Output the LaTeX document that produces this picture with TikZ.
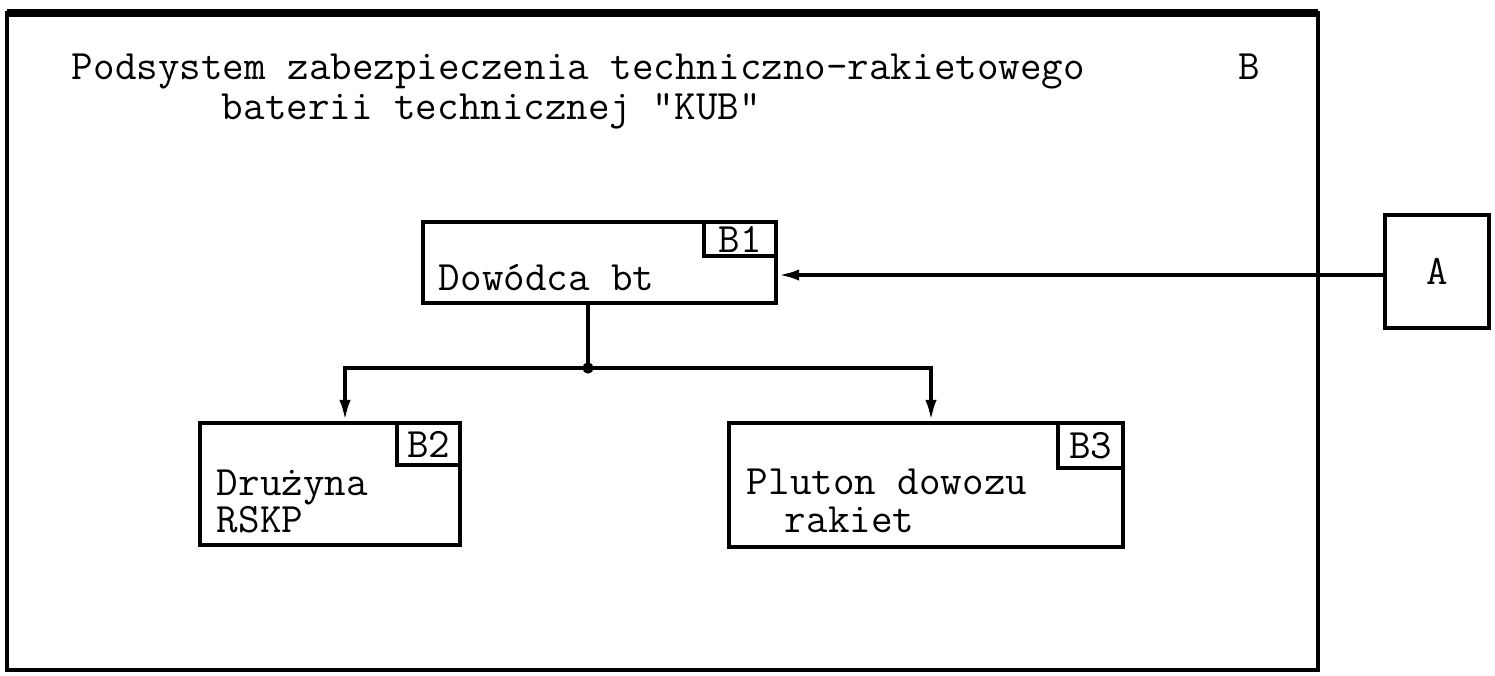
\documentclass[tikz,border=0pt]{standalone}
\usepackage{fontspec}
\usetikzlibrary{arrows.meta}

\begin{document}
\begin{tikzpicture}[x=0.01cm,y=-0.01cm,>={Latex[length=6pt,width=3.2pt]},
  font=\ttfamily\fontsize{11.9}{14}\selectfont,line width=1.1pt,
  blok/.style={draw,inner sep=0pt},
  tag/.style={draw,inner sep=0pt,anchor=north east},
  txt/.style={inner sep=0pt,anchor=base west}]
\useasboundingbox (0,0) rectangle (1495,675);
% ramka podsystemu B
\draw (7,13) rectangle (1318,670);
\draw[line width=2pt] (7,13) -- (1318,13);
\node[txt] (tyt1) at (70,79) {Podsystem zabezpieczenia techniczno-rakietowego};
\node[txt] (tytB) at (1237,79) {B};
\node[txt] (tyt2) at (220,119) {baterii technicznej \textquotedbl KUB\textquotedbl};
% bloki
\node[blok,minimum width=3.53cm,minimum height=0.81cm] (b1) at (599.5,262.5) {};
\node[tag,minimum width=0.72cm,minimum height=0.34cm] (b1t) at (b1.north east) {B1};
\node[txt] (b1x) at (437,290) {Dowódca bt};
\node[blok,minimum width=2.6cm,minimum height=1.22cm] (b2) at (330,484) {};
\node[tag,minimum width=0.63cm,minimum height=0.42cm] (b2t) at (b2.north east) {B2};
\node[txt] (b2x) at (215,495) {Drużyna};
\node[txt] (b2y) at (215,532) {RSKP};
\node[blok,minimum width=3.94cm,minimum height=1.24cm] (b3) at (926,485) {};
\node[tag,minimum width=0.65cm,minimum height=0.45cm] (b3t) at (b3.north east) {B3};
\node[txt] (b3x) at (745,494) {Pluton dowozu};
\node[txt] (b3y) at (783,532) {rakiet};
\node[blok,minimum width=1.04cm,minimum height=1.13cm] (a) at (1437,271.5) {A};
% polaczenia
\draw[->] (a.west |- 0,275) -- (b1.east |- 0,275);
\coordinate (wezel) at (588,368);
\coordinate (lewy) at (345,368);
\coordinate (prawy) at (931,368);
\draw (wezel |- b1.south) -- (wezel);
\draw[->] (wezel) -- (lewy) -- (lewy |- b2.north);
\draw[->] (wezel) -- (prawy) -- (prawy |- b3.north);
\fill (wezel) circle (1.6pt);
\end{tikzpicture}
\end{document}
